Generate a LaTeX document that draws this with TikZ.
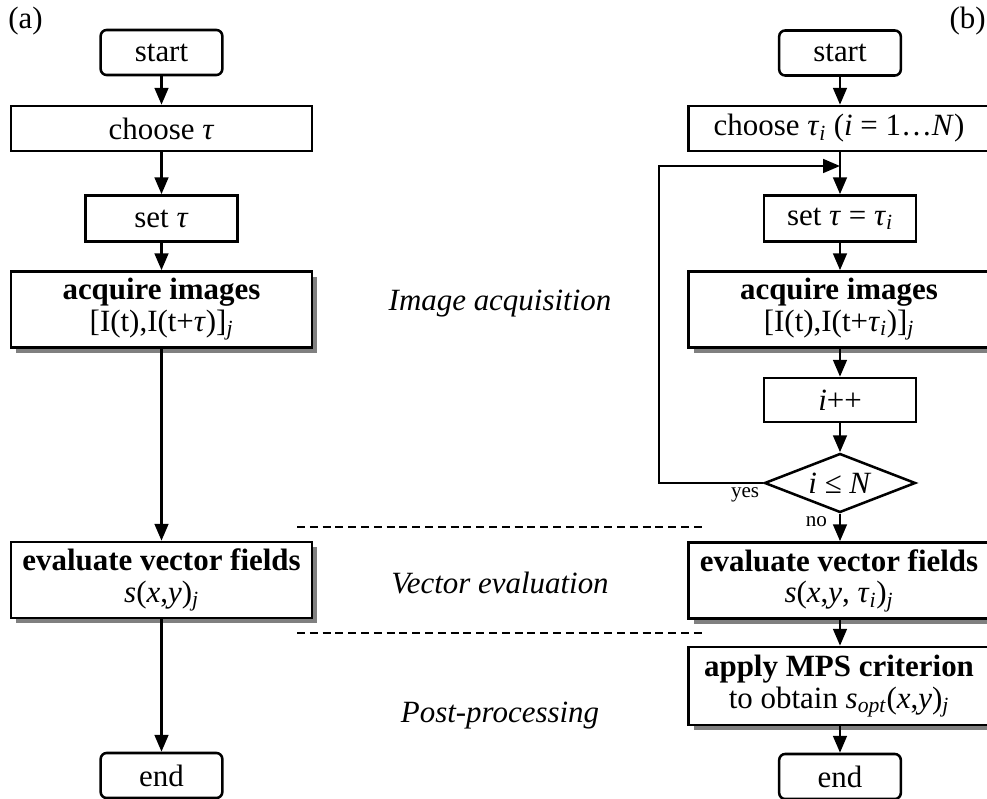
\documentclass[tikz,border=0pt]{standalone}
\usepackage{fontspec}
\setmainfont{Liberation Serif}
\usetikzlibrary{shapes.geometric,shadows,arrows.meta}

\tikzset{
  box/.style={draw, line width=1.8pt, inner sep=1pt, align=center,
    font=\fontsize{22}{22.5}\selectfont},
  terminal/.style={box, rounded corners=0.15cm,
    minimum width=3.04cm, minimum height=1.125cm},
  widebox/.style={box, minimum width=7.525cm, minimum height=1.125cm},
  narrowbox/.style={box, minimum width=3.8cm, minimum height=1.15cm},
  bigbox/.style={widebox, minimum height=1.9cm, fill=white,
    drop shadow={shadow xshift=0.13cm, shadow yshift=-0.13cm,
      fill=black!50, opacity=1}},
  decision/.style={box, diamond, aspect=2.56, inner sep=0pt,
    minimum width=3.775cm, minimum height=1.475cm},
  flow/.style={line width=1.8pt, -{Triangle[length=0.42cm, width=0.34cm]}},
  phase/.style={font=\fontsize{22}{22.5}\selectfont\itshape},
  small/.style={font=\fontsize{15}{17}\selectfont},
  sep/.style={dash pattern=on 0.2cm off 0.12cm, line width=1.2pt},
}

\begin{document}
\begin{tikzpicture}[x=0.025cm, y=-0.025cm]

\useasboundingbox (0,0) rectangle (987,799);

% Panel labels
\node [anchor=base west, inner sep=0pt, font=\fontsize{22}{22.5}\selectfont] (labA) at (8,29) {(a)};
\node [anchor=base east, inner sep=0pt, font=\fontsize{22}{22.5}\selectfont] (labB) at (986,29) {(b)};

% Flowchart (a)
\node [terminal] (startA) at (161.5,52.5) {start};
\node [widebox] (chooseA) at (161.5,128.5) {choose \textit{τ}};
\node [narrowbox] (setA) at (161.5,218.5) {set \textit{τ}};
\node [bigbox] (acqA) at (161.5,309.5)
  {\textbf{acquire images}\\{}[I(t),I(t+\textit{τ})]\textsubscript{\textit{j}}};
\node [bigbox] (evalA) at (161.5,580)
  {\textbf{evaluate vector fields}\\\textit{s}(\textit{x},\textit{y})\textsubscript{\textit{j}}};
\node [terminal] (endA) at (161.5,775.5) {end};

\draw [flow] (startA) -- (chooseA);
\draw [flow] (chooseA) -- (setA);
\draw [flow] (setA) -- (acqA);
\draw [flow] (acqA) -- (evalA);
\draw [flow] (evalA) -- (endA);

% Flowchart (b)
\node [terminal] (startB) at (840,53) {start};
\node [widebox] (chooseB) at (839,128.5)
  {choose \textit{τ}\textsubscript{\textit{i}} (\textit{i} = 1…\textit{N})};
\coordinate (join) at (840,166);
\node [narrowbox] (setB) at (840,218.5) {set \textit{τ} = \textit{τ}\textsubscript{\textit{i}}};
\node [bigbox] (acqB) at (839,309.5)
  {\textbf{acquire images}\\{}[I(t),I(t+\textit{τ}\textsubscript{\textit{i}})]\textsubscript{\textit{j}}};
\node [narrowbox, minimum height=1.1cm] (incB) at (840,400) {\textit{i}++};
\node [decision] (cond) at (840,483) {\textit{i} ≤ \textit{N}};
\coordinate (back) at (659,166);
\node [bigbox] (evalB) at (839,580.5)
  {\textbf{evaluate vector fields}\\\textit{s}(\textit{x},\textit{y}, \textit{τ}\textsubscript{\textit{i}})\textsubscript{\textit{j}}};
\node [bigbox, minimum height=1.95cm] (applyB) at (839,686)
  {\textbf{apply MPS criterion}\\to obtain \textit{s}\textsubscript{\textit{opt}}(\textit{x},\textit{y})\textsubscript{\textit{j}}};
\node [terminal] (endB) at (840,776.5) {end};

\draw [flow] (startB) -- (startB |- chooseB.north);
\draw [flow] (startB |- chooseB.south) -- (setB);
\draw [flow] (setB) -- (setB |- acqB.north);
\draw [flow] (setB |- acqB.south) -- (incB);
\draw [flow] (incB) -- (cond);
\draw [flow] (cond) -- node [small, pos=0.3, left=5pt] {no} (cond |- evalB.north);
\draw [flow] (cond.west) node [small, below left, inner sep=2pt] {yes} -| (back) -- (join);
\draw [flow] (cond |- evalB.south) -- (cond |- applyB.north);
\draw [flow] (cond |- applyB.south) -- (endB);

% Phase separators
\draw [sep] (297,527) -- (705,527);
\draw [sep] (297,633) -- (705,633);

% Phase names
\node [phase, anchor=base] (acqText) at (500,311) {Image acquisition};
\node [phase, anchor=base] (evalText) at (500,593) {Vector evaluation};
\node [phase, anchor=base] (postText) at (500,722) {Post-processing};

\end{tikzpicture}
\end{document}
